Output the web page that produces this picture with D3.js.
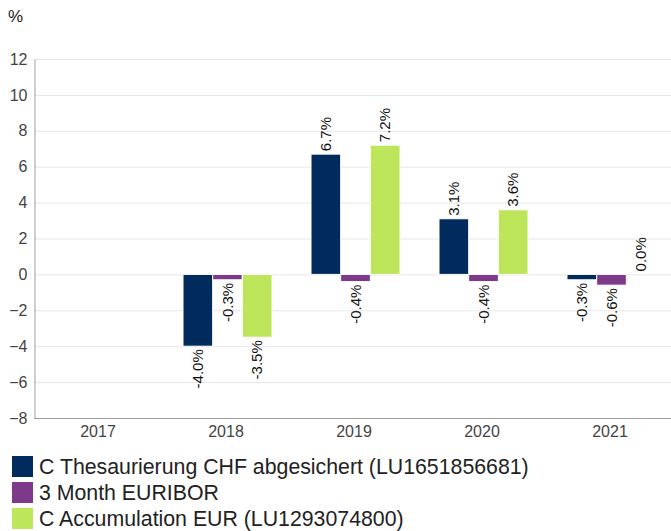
<!DOCTYPE html>
<html>
<head>
<meta charset="utf-8">
<script src="https://cdn.jsdelivr.net/npm/d3@7"></script>
<style>
  body { margin: 0; background: #fff; }
  text { font-family: "Liberation Sans", Arial, sans-serif; }
</style>
</head>
<body>
<script>
// Yearly performance (%)
const years = ["2017", "2018", "2019", "2020", "2021"];
const seriesNames = [
  "C Thesaurierung CHF abgesichert (LU1651856681)",
  "3 Month EURIBOR",
  "C Accumulation EUR (LU1293074800)"
];
const fundChf = [null, -4.0, 6.7, 3.1, -0.3];
const euribor = [null, -0.3, -0.4, -0.4, -0.6];
const fundEur = [null, -3.5, 7.2, 3.6, 0.0];
const yTicks = [-8, -6, -4, -2, 0, 2, 4, 6, 8, 10, 12];
const colors = ["#002b5c", "#7d3a8b", "#bde65a"];

const width = 671;
const height = 531;
const marginTop = 59;
const marginLeft = 34;
const plotRight = 674;
const plotBottom = 418;

const svg = d3.create("svg")
  .attr("width", width)
  .attr("height", height)
  .attr("viewBox", [0, 0, width, height]);

const x = d3.scaleBand()
  .domain(years)
  .range([marginLeft, plotRight]);

const x1 = d3.scaleBand()
  .domain([0, 1, 2])
  .range([21, x.bandwidth() - 18]);

const y = d3.scaleLinear()
  .domain([-8, 12])
  .range([plotBottom, marginTop]);

// grid lines
svg.append("g")
  .selectAll("line")
  .data(yTicks)
  .join("line")
  .attr("x1", marginLeft)
  .attr("x2", width)
  .attr("y1", d => y(d) + 0.5)
  .attr("y2", d => y(d) + 0.5)
  .attr("stroke", "#e6e6e6");

// y axis
const yAxis = svg.append("g")
  .attr("transform", `translate(${marginLeft + 0.5},0)`)
  .call(d3.axisLeft(y).tickValues(yTicks).tickSize(0).tickPadding(7));
yAxis.select(".domain").attr("stroke", "#a0a0a0");
yAxis.selectAll("text").attr("font-size", 16).attr("fill", "#444");

// x axis
const xAxis = svg.append("g")
  .attr("transform", `translate(0,${plotBottom + 0.5})`)
  .call(d3.axisBottom(x).tickSize(0).tickPadding(7));
xAxis.select(".domain").attr("stroke", "#a0a0a0").attr("d", `M${marginLeft},0H${width}`);
xAxis.selectAll("text").attr("font-size", 16).attr("fill", "#444");

// unit label
svg.append("text")
  .attr("x", 8)
  .attr("y", 22)
  .attr("font-size", 17)
  .attr("fill", "#222")
  .text("%");

const series = [fundChf, euribor, fundEur];
const bars = [];
series.forEach((vals, s) => {
  vals.forEach((v, i) => {
    if (v !== null) bars.push({ year: years[i], s, v });
  });
});

const groups = svg.append("g");

groups.selectAll("rect")
  .data(bars)
  .join("rect")
  .attr("x", d => x(d.year) + x1(d.s))
  .attr("width", x1.bandwidth())
  .attr("y", d => y(Math.max(0, d.v)))
  .attr("height", d => Math.abs(y(d.v) - y(0)))
  .attr("fill", d => colors[d.s])
  .attr("stroke", "#fff")
  .attr("stroke-width", 1);

// value labels
groups.selectAll("text")
  .data(bars)
  .join("text")
  .attr("transform", d => {
    const cx = x(d.year) + x1(d.s) + x1.bandwidth() / 2;
    const cy = d.v >= 0 ? y(d.v) - 3 : y(d.v) + 3;
    return `translate(${cx},${cy}) rotate(-90)`;
  })
  .attr("text-anchor", d => d.v >= 0 ? "start" : "end")
  .attr("dy", "0.35em")
  .attr("font-size", 15)
  .attr("fill", "#111")
  .text(d => d.v.toFixed(1) + "%");

// legend
const legend = svg.append("g")
  .attr("transform", "translate(12,456)");

const item = legend.selectAll("g")
  .data(seriesNames)
  .join("g")
  .attr("transform", (d, i) => `translate(0,${i * 26})`);

item.append("rect")
  .attr("width", 21)
  .attr("height", 21)
  .attr("fill", (d, i) => colors[i]);

item.append("text")
  .attr("x", 27)
  .attr("y", 18)
  .attr("font-size", 21.3)
  .attr("fill", "#222")
  .text(d => d);

document.body.appendChild(svg.node());
</script>
</body>
</html>
